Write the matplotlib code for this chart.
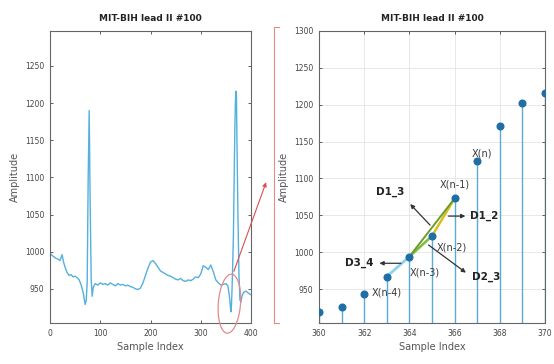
import matplotlib
matplotlib.use("Agg")
import matplotlib.pyplot as plt
from matplotlib.patches import Ellipse
from matplotlib.lines import Line2D

# left panel: ECG record, samples
ecg_x = [0, 4, 8, 12, 16, 20, 24, 27, 30, 34, 38, 42, 46, 50, 54, 58, 62, 66,
         70, 72, 74, 76, 78, 80, 82, 84, 86, 90, 95, 100, 105, 110, 115, 120,
         125, 130, 135, 140, 145, 150, 155, 160, 165, 170, 175, 180, 185, 190,
         195, 200, 205, 210, 215, 220, 225, 230, 235, 240, 245, 250, 255, 260,
         265, 270, 275, 280, 285, 290, 295, 300, 305, 310, 315, 320, 325, 330,
         335, 340, 345, 350, 354, 357, 360, 361, 362, 363, 364, 365, 366, 367,
         368, 369, 370, 371, 372, 374, 376, 378, 380, 382, 385, 390, 395, 400]
ecg_y = [998, 995, 993, 991, 990, 988, 996, 986, 979, 972, 968, 969, 966, 967,
         965, 962, 955, 945, 929, 934, 958, 1100, 1190, 1060, 962, 940, 952,
         957, 955, 958, 956, 957, 955, 958, 956, 954, 957, 955, 956, 954, 955,
         953, 952, 950, 949, 951, 958, 968, 978, 986, 988, 984, 979, 974, 972,
         970, 968, 967, 965, 963, 962, 964, 961, 960, 962, 961, 963, 966, 965,
         970, 981, 979, 976, 982, 973, 962, 958, 955, 956, 957, 954, 940, 919,
         926, 944, 967, 994, 1022, 1073, 1124, 1171, 1202, 1216, 1212, 1150,
         1050, 970, 935, 932, 940, 945, 947, 944, 942]

# right panel: zoom on samples 360..370
idx = [360, 361, 362, 363, 364, 365, 366, 367, 368, 369, 370]
amp = [919, 926, 944, 967, 994, 1022, 1073, 1124, 1171, 1202, 1216]

title = "MIT-BIH lead II #100"
tick_col = "#444444"

fig = plt.figure(figsize=(5.54, 3.64), dpi=100)
W, H = 554, 364
ax1 = fig.add_axes([50 / W, 41 / H, 201 / W, 292 / H])
ax2 = fig.add_axes([319 / W, 41 / H, 226 / W, 292 / H])

ax1.plot(ecg_x, ecg_y, color="#55b0dc", lw=1.0)
ax1.set_xlim(0, 400)
ax1.set_ylim(904, 1297)
ax1.set_xticks([0, 100, 200, 300, 400])
ax1.set_yticks([950, 1000, 1050, 1100, 1150, 1200, 1250])

# stems
for xi, yi in zip(idx, amp):
    ax2.plot([xi, xi], [904, yi], color="#5aaad4", lw=1.0, zorder=2)
ax2.plot(idx, amp, "o", color="#1f6fa6", ms=4.8, zorder=4)
ax2.set_xlim(360, 370)
ax2.set_ylim(904, 1300)
ax2.set_xticks(range(360, 371, 2))
ax2.set_yticks(range(950, 1301, 50))
ax2.grid(True, color="#e4e4e4", lw=0.6)
ax2.set_axisbelow(True)

for ax in (ax1, ax2):
    ax.set_title(title, fontsize=6.5, fontweight="bold", pad=7, color="#222222")
    ax.set_xlabel("Sample Index", fontsize=7, color="#555555", labelpad=3)
    ax.set_ylabel("Amplitude", fontsize=7, color="#555555", labelpad=4)
    ax.tick_params(direction="in", top=True, right=True, length=2.5,
                   labelsize=5.5, colors=tick_col, width=0.6, pad=4)
    for s in ax.spines.values():
        s.set_color("#666666")
        s.set_linewidth(0.8)

# segments between neighbouring samples
ax2.plot(idx[3:5], amp[3:5], color="#8fd0ea", lw=2.0, zorder=3)
ax2.plot(idx[4:6], amp[4:6], color="#7cbf3a", lw=1.8, zorder=3)
ax2.plot(idx[5:7], amp[5:7], color="#d4c020", lw=1.8, zorder=3)
ax2.plot([idx[4], idx[6]], [amp[4], amp[6]], color="#6f9a30", lw=1.4, zorder=3)

arrow = dict(arrowstyle="-|>", color="#333333", lw=0.9, mutation_scale=6)
lab = dict(fontsize=7.5, fontweight="bold", color="#222222")
ax2.annotate("", xy=(363.95, 1068), xytext=(365.0, 1034), arrowprops=arrow)
ax2.text(363.15, 1082, "D1_3", ha="center", va="center", **lab)
ax2.annotate("", xy=(366.6, 1049), xytext=(365.6, 1049), arrowprops=arrow)
ax2.text(366.7, 1049, "D1_2", ha="left", va="center", **lab)
ax2.annotate("", xy=(366.6, 970), xytext=(364.75, 1012), arrowprops=arrow)
ax2.text(366.75, 967, "D2_3", ha="left", va="center", **lab)
ax2.annotate("", xy=(362.55, 985), xytext=(363.75, 985), arrowprops=arrow)
ax2.text(362.4, 985, "D3_4", ha="right", va="center", **lab)

xl = dict(fontsize=7, color="#3a3a3a", va="center")
ax2.text(367.2, 1134, "X(n)", ha="center", **xl)
ax2.text(366.0, 1092, "X(n-1)", ha="center", **xl)
ax2.text(365.2, 1007, "X(n-2)", ha="left", **xl)
ax2.text(364.0, 972, "X(n-3)", ha="left", **xl)
ax2.text(362.35, 945, "X(n-4)", ha="left", **xl)

# red ellipse and arrow on left panel
red = "#e38a8a"
ax1.add_patch(Ellipse((357, 930), 44, 80, angle=-8, fill=False, ec=red,
                      lw=0.9, clip_on=False, zorder=5))
ax1.annotate("", xy=(432, 1097), xytext=(364, 970), annotation_clip=False,
             arrowprops=dict(arrowstyle="-|>", color="#d85050", lw=0.8,
                             mutation_scale=6))

# bracket marking the zoomed region
bx = 274 / W
fig.add_artist(Line2D([bx, bx], [41 / H, 337 / H], color=red, lw=0.8))
fig.add_artist(Line2D([bx, bx + 5 / W], [337 / H, 337 / H], color=red, lw=0.8))
fig.add_artist(Line2D([bx, bx + 5 / W], [41 / H, 41 / H], color=red, lw=0.8))

fig.savefig("out.png", dpi=100)
